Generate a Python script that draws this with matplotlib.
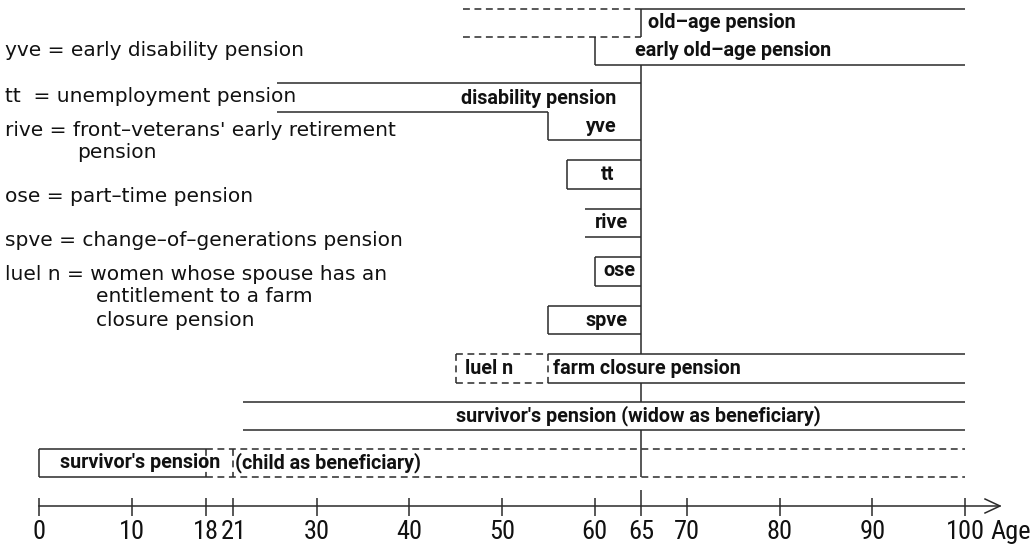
import matplotlib
matplotlib.use("Agg")
import matplotlib.pyplot as plt

# ---------------- data (ages) ----------------
tick_ages = [0, 10, 18, 21, 30, 40, 50, 60, 65, 70, 80, 90, 100]
axis_label = "Age"

# abbreviations explained at the left
abbrev_lines = [
    "yve = early disability pension",
    "tt  = unemployment pension",
    "rive = front–veterans' early retirement",
    "pension",
    "ose = part–time pension",
    "spve = change–of–generations pension",
    "luel n = women whose spouse has an",
    "entitlement to a farm",
    "closure pension",
]

# pension bands: label, start age, end age
old_age_label = "old–age pension"
old_age_wait_start = 45.8    # dashed part before entitlement
old_age_start, old_age_end = 65, 100

early_old_label = "early old–age pension"
early_old_start, early_old_end = 60, 100

disab_label = "disability pension"
disab_start, disab_end = 25.7, 65

short_labels = ["yve", "tt", "rive", "ose", "spve"]
short_start = [55, 57, 59, 60, 55]
short_end = [65, 65, 65, 65, 65]

luel_label = "luel n"
luel_start, luel_end = 45, 55
farm_label = "farm closure pension"
farm_start, farm_end = 55, 100

widow_label = "survivor's pension (widow as beneficiary)"
widow_start, widow_end = 22, 100

child_label_a = "survivor's pension"
child_label_b = "(child as beneficiary)"
child_start, child_end = 0, 18
child_ext_end = 21          # possible extension (studies)
child_dash_end = 100

retire_age = 65

# ---------------- layout ----------------
W, H = 1032, 549
fig = plt.figure(figsize=(W / 100, H / 100), dpi=100)
ax = fig.add_axes([0, 0, 1, 1])
px0, px100 = 39.0, 965.0
ppy = (px100 - px0) / 100.0
ax.set_xlim(-px0 / ppy, (W - px0) / ppy)
ax.set_ylim(H, 0)
ax.axis("off")


def age_of(px):
    return (px - px0) / ppy


LC = "#2a2a2a"
LW = 1.1
DASH = (0, (4.5, 3.0))

lab_font = dict(family=["Roboto", "DejaVu Sans"], fontweight="bold",
                fontsize=14.2, color="#111111", va="center")
leg_font = dict(family=["DejaVu Sans"], fontsize=14.5, color="#111111", va="center")
tick_font = dict(family=["Roboto Condensed", "Noto Sans Condensed", "Noto Sans", "DejaVu Sans"],
                 fontstretch="condensed", fontsize=19,
                 color="#111111", va="center")


def hline(y, a0, a1, dashed=False):
    ax.plot([a0, a1], [y, y], color=LC, lw=LW, ls=DASH if dashed else "-",
            solid_capstyle="butt", dash_capstyle="butt")


def vline(a, y0, y1, dashed=False):
    ax.plot([a, a], [y0, y1], color=LC, lw=LW, ls=DASH if dashed else "-",
            solid_capstyle="butt", dash_capstyle="butt")


# old-age pension
y_top, y_mid, y_bot = 9, 37, 65
hline(y_top, old_age_wait_start, old_age_start, dashed=True)
hline(y_top, old_age_start, old_age_end)
hline(y_mid, old_age_wait_start, old_age_start, dashed=True)
ax.text(age_of(648), 23, old_age_label, ha="left", **lab_font)

# early old-age pension
vline(early_old_start, y_mid, y_bot)
hline(y_bot, early_old_start, early_old_end)
ax.text(age_of(635), 51, early_old_label, ha="left", **lab_font)

# disability pension + yve
y_d0, y_d1, y_d2 = 83, 112, 140
hline(y_d0, disab_start, disab_end)
hline(y_d1, disab_start, short_start[0])
vline(short_start[0], y_d1, y_d2)
hline(y_d2, short_start[0], short_end[0])
ax.text(age_of(616), 98, disab_label, ha="right", **lab_font)
ax.text(age_of(617), 127, short_labels[0], ha="right", **lab_font)

# tt (box)
y0, y1 = 160, 189
hline(y0, short_start[1], short_end[1])
hline(y1, short_start[1], short_end[1])
vline(short_start[1], y0, y1)
ax.text(age_of(608), 174, short_labels[1], ha="center", **lab_font)

# rive (open on the left)
y0, y1 = 209, 237
hline(y0, short_start[2], short_end[2])
hline(y1, short_start[2], short_end[2])
ax.text(age_of(628), 222, short_labels[2], ha="right", **lab_font)

# ose (box)
y0, y1 = 257, 286
hline(y0, short_start[3], short_end[3])
hline(y1, short_start[3], short_end[3])
vline(short_start[3], y0, y1)
ax.text((short_start[3] + short_end[3]) / 2 + 0.2, 271, short_labels[3], ha="center", **lab_font)

# spve (box)
y0, y1 = 306, 334
hline(y0, short_start[4], short_end[4])
hline(y1, short_start[4], short_end[4])
vline(short_start[4], y0, y1)
ax.text(age_of(628), 320, short_labels[4], ha="right", **lab_font)

# luel n (dashed box) + farm closure pension
y0, y1 = 354, 383
hline(y0, luel_start, luel_end, dashed=True)
hline(y1, luel_start, luel_end, dashed=True)
vline(luel_start, y0, y1, dashed=True)
vline(luel_end, y0, y1, dashed=True)
hline(y0, farm_start, farm_end)
hline(y1, farm_start, farm_end)
ax.text(age_of(465), 368, luel_label, ha="left", **lab_font)
ax.text(age_of(553), 368, farm_label, ha="left", **lab_font)

# widow's survivor's pension
y0, y1 = 402, 430
hline(y0, widow_start, widow_end)
hline(y1, widow_start, widow_end)
ax.text(age_of(456), 416, widow_label, ha="left", **lab_font)

# child's survivor's pension
y0, y1 = 449, 477
hline(y0, child_start, child_end)
hline(y1, child_start, child_end)
vline(child_start, y0, y1)
vline(child_end, y0, y1, dashed=True)
hline(y0, child_end, child_dash_end, dashed=True)
hline(y1, child_end, child_dash_end, dashed=True)
vline(child_ext_end, y0, y1, dashed=True)
ax.text(age_of(60), 463, child_label_a, ha="left", **lab_font)
ax.text(age_of(235), 463, child_label_b, ha="left", **lab_font)

# retirement age line at 65 (broken where the text runs)
for a, b in [(9, 37), (65, 354), (383, 402), (430, 477)]:
    vline(retire_age, a, b)

# age axis
y_ax = 506
x_tip = age_of(1000)
ax.plot([0, x_tip], [y_ax, y_ax], color=LC, lw=LW)
ax.plot([x_tip - 15 / ppy, x_tip, x_tip - 15 / ppy], [y_ax - 7, y_ax, y_ax + 7],
        color=LC, lw=LW)
for t in tick_ages:
    top = 490 if t == retire_age else 498
    vline(t, top, 516)
    ax.text(t, 532, str(t), ha="center", **tick_font)
ax.text(age_of(990), 532, axis_label, ha="left", **tick_font)

# abbreviation list
leg_x = [5, 5, 5, 77, 5, 5, 5, 96, 96]
leg_y = [51, 97, 130, 153, 196, 240, 274, 297, 321]
for s, xp, yp in zip(abbrev_lines, leg_x, leg_y):
    ax.text(age_of(xp), yp, s, ha="left", **leg_font)

fig.savefig("out.png", dpi=100)
